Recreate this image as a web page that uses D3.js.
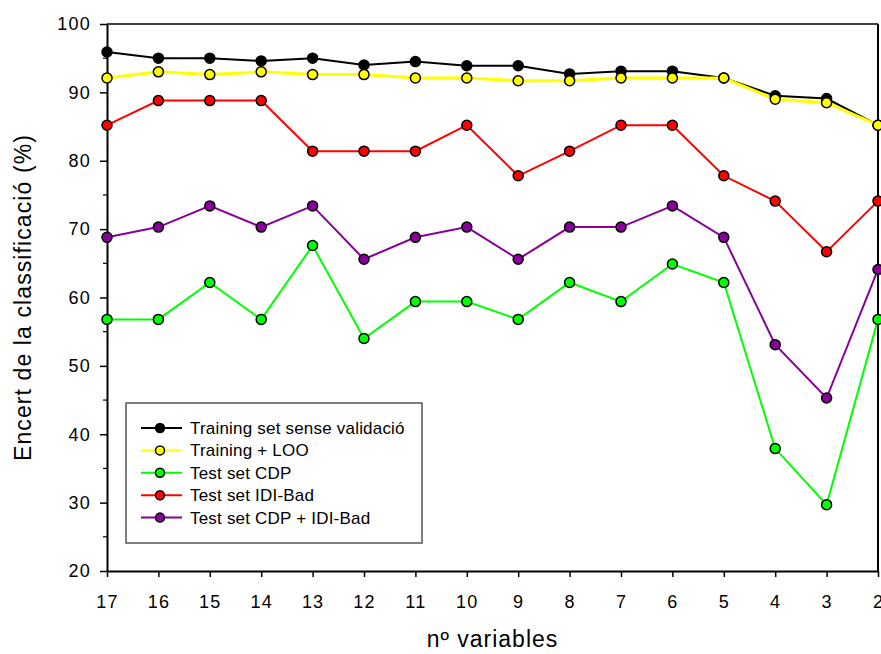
<!DOCTYPE html>
<html><head><meta charset="utf-8">
<script src="https://cdn.jsdelivr.net/npm/d3@7"></script>
<style>body{margin:0;background:#fff}svg{display:block;font-family:Arial,"Liberation Sans",sans-serif}</style>
</head><body>
<svg id="c" width="881" height="654"></svg>
<script>
const categories = [17,16,15,14,13,12,11,10,9,8,7,6,5,4,3,2];
const trainingNoVal = [95.9,95.0,95.0,94.6,95.0,94.0,94.5,93.9,93.9,92.7,93.1,93.1,92.1,89.5,89.1,85.2];
const trainingLOO   = [92.1,93.0,92.6,93.0,92.6,92.6,92.1,92.1,91.7,91.7,92.1,92.1,92.1,89.0,88.5,85.2];
const testCDP       = [56.8,56.8,62.2,56.8,67.6,54.0,59.4,59.4,56.8,62.2,59.4,64.9,62.2,37.9,29.7,56.8];
const testIDI       = [85.2,88.8,88.8,88.8,81.4,81.4,81.4,85.2,77.8,81.4,85.2,85.2,77.8,74.1,66.7,74.1];
const testCDPIDI    = [68.8,70.3,73.4,70.3,73.4,65.6,68.8,70.3,65.6,70.3,70.3,73.4,68.8,53.1,45.3,64.1];
const yTicks = [20,30,40,50,60,70,80,90,100];
const seriesNames = ["Training set sense validació","Training + LOO","Test set CDP","Test set IDI-Bad","Test set CDP + IDI-Bad"];

const series = [
  {name:seriesNames[0], values:trainingNoVal, color:"#000000", w:2},
  {name:seriesNames[1], values:trainingLOO, color:"#ffff00", w:3},
  {name:seriesNames[2], values:testCDP, color:"#00ff00", w:2},
  {name:seriesNames[3], values:testIDI, color:"#ff0000", w:2},
  {name:seriesNames[4], values:testCDPIDI, color:"#880099", w:2}
];

const L=107, R=878, T=24, B=571;
const svg = d3.select("#c");
const x = d3.scalePoint().domain(categories).range([L,R]);
const y = d3.scaleLinear().domain([20,100]).range([B,T]);

// frame top/right
svg.append("line").attr("x1",L).attr("x2",R).attr("y1",T).attr("y2",T).attr("stroke","#000").attr("stroke-width",1.5);
svg.append("line").attr("x1",R).attr("x2",R).attr("y1",T).attr("y2",B).attr("stroke","#000").attr("stroke-width",2);

// y axis
const ya = svg.append("g").attr("transform",`translate(${L},0)`)
  .call(d3.axisLeft(y).tickValues(yTicks).tickSize(7).tickPadding(9).tickSizeOuter(0));
ya.select(".domain").attr("stroke-width",2);
ya.selectAll(".tick line").attr("stroke-width",1.5);
ya.selectAll("text").attr("font-size",18).attr("letter-spacing",1.2).attr("fill","#000");
// minor y ticks
const minor = d3.range(25,100,10);
svg.append("g").selectAll("line").data(minor).join("line")
  .attr("x1",L-4).attr("x2",L).attr("y1",d=>y(d)).attr("y2",d=>y(d)).attr("stroke","#000").attr("stroke-width",1.2);

// x axis
const xa = svg.append("g").attr("transform",`translate(0,${B})`)
  .call(d3.axisBottom(x).tickSize(6).tickPadding(18).tickSizeOuter(0));
xa.select(".domain").attr("stroke-width",2);
xa.selectAll(".tick line").attr("stroke-width",1.5);
xa.selectAll("text").attr("font-size",18).attr("letter-spacing",1.2).attr("fill","#000");

// lines and markers
const line = d3.line().x((d,i)=>x(categories[i])).y(d=>y(d));
series.forEach(s=>{
  svg.append("path").attr("d",line(s.values)).attr("fill","none").attr("stroke",s.color).attr("stroke-width",s.w);
});
series.forEach(s=>{
  svg.append("g").selectAll("circle").data(s.values).join("circle")
    .attr("cx",(d,i)=>x(categories[i])).attr("cy",d=>y(d)).attr("r",5)
    .attr("fill",s.color).attr("stroke","#000").attr("stroke-width",1.5);
});

// axis titles
svg.append("text").attr("x",(L+R)/2).attr("y",647).attr("text-anchor","middle").attr("font-size",23).attr("letter-spacing",1).text("nº variables");
svg.append("text").attr("transform",`translate(31,${(T+B)/2}) rotate(-90)`).attr("text-anchor","middle").attr("font-size",23).attr("letter-spacing",1.1).text("Encert de la classificació (%)");

// legend
const lg = svg.append("g");
lg.append("rect").attr("x",126).attr("y",403).attr("width",296).attr("height",140).attr("fill","#fff").attr("stroke","#555").attr("stroke-width",1.5);
series.forEach((s,i)=>{
  const cy = 428 + i*22.4;
  lg.append("line").attr("x1",141).attr("x2",182).attr("y1",cy).attr("y2",cy).attr("stroke",s.color).attr("stroke-width",2);
  lg.append("circle").attr("cx",160).attr("cy",cy).attr("r",4.5).attr("fill",s.color).attr("stroke","#000").attr("stroke-width",1.5);
  lg.append("text").attr("x",190).attr("y",cy+6).attr("font-size",17).attr("letter-spacing",0.2).attr("fill","#000").text(s.name);
});
</script>
</body></html>
